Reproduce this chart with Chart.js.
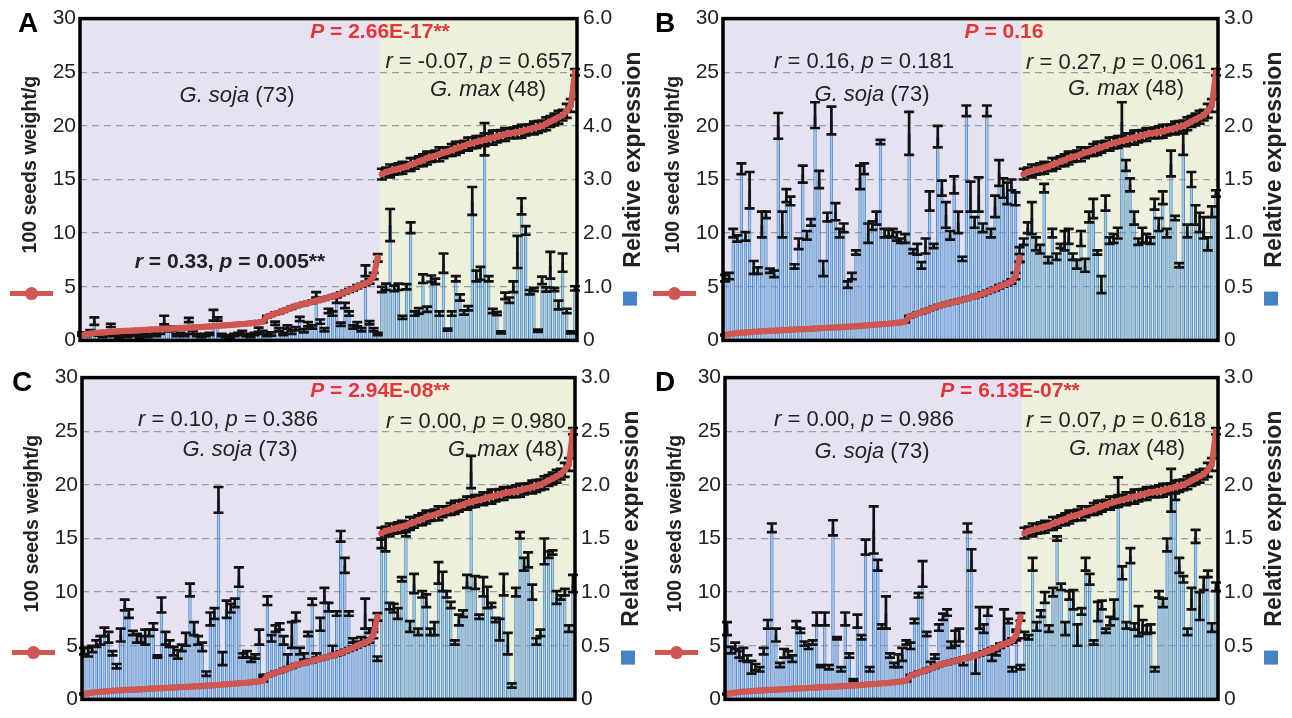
<!DOCTYPE html>
<html>
<head>
<meta charset="utf-8">
<script src="https://cdn.jsdelivr.net/npm/chart.js@4.4.0/dist/chart.umd.min.js"></script>
<style>
body{margin:0;background:#fff;}
#wrap{position:relative;width:1292px;height:718px;overflow:hidden;}
canvas{position:absolute;}
</style>
</head>
<body>
<div id="wrap">
<canvas id="chartA" width="646" height="359" style="left:0;top:0"></canvas>
<canvas id="chartB" width="646" height="359" style="left:646px;top:0"></canvas>
<canvas id="chartC" width="646" height="359" style="left:0;top:359px"></canvas>
<canvas id="chartD" width="646" height="359" style="left:646px;top:359px"></canvas>
</div>
<script>
// categories
var groups = ['G. soja', 'G. max'];
var groupCount = [73, 48];
var labels = [];
for(var g=0; g<groups.length; g++){
	for(var k=1; k<=groupCount[g]; k++){
		labels.push(groups[g]+' '+k);
	}
}

// 100 seeds weight (g), same accessions in every panel
var seedSoja = [0.5,0.58,0.63,0.68,0.71,0.74,0.77,0.8,0.82,0.85,
	0.87,0.89,0.91,0.93,0.95,0.97,0.99,1.01,1.03,1.05,
	1.07,1.09,1.11,1.13,1.15,1.17,1.19,1.21,1.23,1.25,
	1.28,1.3,1.32,1.35,1.38,1.41,1.44,1.47,1.5,1.53,
	1.56,1.6,1.64,1.68,1.75,2.2,2.35,2.5,2.6,2.75,
	2.9,3.05,3.2,3.3,3.4,3.5,3.6,3.7,3.8,3.9,
	4.0,4.1,4.2,4.35,4.5,4.65,4.8,5.0,5.15,5.3,
	5.5,6.0,7.7];
var seedMax = [15.5,15.7,15.8,15.9,16.0,16.1,16.2,16.4,16.5,16.7,
	16.8,17.0,17.1,17.2,17.35,17.5,17.6,17.75,17.9,18.0,
	18.15,18.3,18.4,18.5,18.6,18.7,18.8,18.9,19.0,19.1,
	19.2,19.3,19.35,19.4,19.5,19.6,19.7,19.8,19.9,20.0,
	20.2,20.4,20.6,20.8,21.0,21.4,21.9,25.0];
var seedErrSoja = [0.03,0.04,0.03,0.04,0.04,0.03,0.05,0.04,0.04,0.03,
	0.05,0.04,0.04,0.05,0.04,0.05,0.04,0.06,0.04,0.05,
	0.05,0.04,0.06,0.05,0.04,0.05,0.06,0.04,0.05,0.06,
	0.05,0.07,0.05,0.06,0.06,0.05,0.07,0.06,0.07,0.05,
	0.07,0.06,0.08,0.06,0.07,0.08,0.07,0.09,0.08,0.1,
	0.08,0.11,0.09,0.09,0.11,0.1,0.12,0.1,0.11,0.12,
	0.11,0.13,0.11,0.13,0.12,0.14,0.13,0.15,0.13,0.16,
	0.2,0.3,0.35];
var seedErrMax = [0.5,0.4,0.6,0.45,0.5,0.55,0.4,0.6,0.5,0.45,
	0.55,0.6,0.45,0.5,0.65,0.5,0.4,0.55,0.6,0.5,
	0.45,0.6,0.5,0.55,0.45,0.6,0.5,0.65,0.55,0.5,
	0.6,0.45,0.5,0.55,0.6,0.5,0.45,0.6,0.55,0.5,
	0.6,0.5,0.55,0.6,0.5,0.65,0.6,0.3];

// relative expression, panel A
var expASoja = [0.12,0.1,0.15,0.36,0.12,0.08,0.1,0.28,0.1,0.07,
	0.1,0.08,0.12,0.1,0.06,0.1,0.08,0.12,0.1,0.15,
	0.38,0.2,0.22,0.1,0.12,0.1,0.38,0.15,0.1,0.08,
	0.1,0.12,0.47,0.4,0.1,0.08,0.06,0.1,0.12,0.15,
	0.1,0.08,0.12,0.2,0.15,0.1,0.12,0.32,0.2,0.12,
	0.25,0.15,0.22,0.4,0.18,0.3,0.25,0.85,0.35,0.2,
	0.55,0.5,0.75,0.3,0.65,0.5,0.25,0.3,0.2,1.3,
	0.33,0.2,0.12];
var errASoja = [.03,.02,.04,.07,.03,.02,.02,.03,.02,.02,
	.02,.02,.02,.02,.02,.02,.02,.03,.02,.03,
	.08,.03,.04,.02,.02,.02,.04,.03,.02,.02,
	.02,.02,.1,.03,.02,.02,.02,.02,.02,.03,
	.02,.02,.02,.04,.03,.02,.03,.03,.03,.02,
	.03,.03,.03,.04,.03,.04,.03,.05,.04,.03,
	.04,.04,.05,.03,.05,.04,.03,.04,.03,.1,
	.03,.03,.02];
var expAMax = [0.95,1.0,2.15,0.97,1.0,0.43,1.0,2.1,0.5,0.55,
	1.15,0.58,1.15,1.1,0.5,1.44,0.2,0.5,1.15,0.8,
	0.52,0.6,2.6,1.2,1.25,3.75,1.15,0.55,0.5,0.15,
	0.83,0.75,1.0,1.65,2.5,2.05,0.9,0.95,0.18,1.12,
	0.95,1.4,0.95,0.66,1.45,0.55,0.15,0.97];
var errAMax = [.05,.06,.3,.05,.06,.03,.05,.1,.04,.05,
	.08,.05,.06,.05,.04,.18,.02,.04,.05,.06,
	.04,.04,.26,.1,.12,.3,.05,.04,.03,.02,
	.06,.05,.1,.3,.15,.08,.04,.03,.02,.07,
	.04,.25,.03,.08,.17,.04,.02,.04];

// panel B
var expBSoja = [0.58,0.6,1.0,0.95,1.6,0.97,1.4,0.68,0.65,1.08,
	1.17,0.65,0.62,2.0,1.08,1.35,1.3,0.69,0.9,1.55,
	0.98,1.1,2.1,1.5,0.67,1.15,2.05,1.2,1.0,1.05,
	0.52,0.6,0.82,1.52,1.6,1.0,1.07,1.14,1.85,1.0,
	1.0,1.0,0.97,0.93,0.95,1.93,0.83,0.85,0.7,0.88,
	1.3,0.88,1.9,1.42,1.17,0.98,1.45,1.1,0.76,2.14,
	1.34,1.1,1.36,1.05,2.14,1.0,1.25,1.56,1.42,1.37,
	1.45,1.32,0.8];
var errBSoja = [.03,.03,.04,.03,.05,.04,.17,.06,.03,.12,
	.03,.02,.03,.12,.12,.06,.04,.02,.05,.08,
	.04,.03,.12,.08,.07,.04,.13,.08,.04,.04,
	.03,.03,.02,.11,.05,.09,.04,.06,.02,.04,
	.03,.04,.04,.02,.04,.2,.02,.05,.03,.07,
	.09,.02,.1,.07,.12,.04,.08,.1,.02,.05,
	.14,.05,.16,.04,.05,.04,.1,.12,.09,.1,
	.05,.06,.07];
var expBMax = [0.92,1.05,1.14,0.9,0.85,1.42,0.75,1.0,0.78,0.88,
	0.93,0.97,0.78,0.71,0.95,0.7,1.15,1.23,0.82,0.52,
	1.28,0.93,0.95,1.0,2.04,1.63,1.45,1.14,0.92,0.98,
	0.95,0.93,1.27,1.08,1.33,1.0,1.65,1.14,0.7,1.83,
	1.02,1.5,1.17,1.1,1.05,0.9,1.2,1.37];
var errBMax = [.03,.05,.15,.06,.04,.04,.03,.04,.03,.02,
	.09,.07,.03,.04,.07,.06,.05,.09,.02,.08,
	.07,.03,.04,.05,.18,.05,.06,.06,.03,.07,
	.04,.03,.05,.06,.06,.04,.12,.02,.02,.1,
	.06,.07,.09,.09,.1,.06,.05,.03];

// panel C
var expCSoja = [0.45,0.44,0.47,0.52,0.55,0.63,0.58,0.43,0.31,0.6,
	0.88,0.8,0.62,0.57,0.56,0.58,0.62,0.68,0.4,0.88,
	0.57,0.52,0.45,0.42,0.48,0.56,1.02,0.66,0.55,0.49,
	0.24,0.75,0.8,1.86,0.38,0.84,0.85,0.9,1.14,0.41,
	0.42,0.37,0.4,0.58,0.22,0.92,0.57,0.66,0.68,0.55,
	0.36,0.6,0.77,0.45,0.4,0.61,0.91,0.41,0.7,0.97,
	0.86,0.46,0.8,1.52,1.25,0.8,0.55,0.52,0.55,0.8,
	0.64,0.7,0.38];
var errCSoja = [.03,.04,.03,.03,.04,.04,.05,.02,.02,.06,
	.05,.04,.02,.04,.03,.07,.03,.03,.01,.07,
	.06,.03,.04,.04,.03,.06,.06,.06,.04,.04,
	.02,.06,.05,.12,.06,.08,.04,.04,.09,.02,
	.03,.02,.02,.07,.01,.04,.03,.03,.03,.04,
	.06,.12,.04,.03,.03,.02,.03,.02,.06,.07,
	.04,.04,.02,.05,.07,.02,.02,.02,.03,.14,
	.02,.04,.02];
var expCMax = [1.45,1.47,0.87,0.85,0.8,1.12,1.54,0.68,1.08,0.63,
	0.98,0.92,0.63,0.66,1.18,1.1,0.98,0.88,0.53,0.74,
	0.8,1.1,2.12,1.09,0.77,1.05,0.95,0.88,0.74,0.65,
	1.07,0.52,0.13,1.0,1.53,1.26,1.3,1.0,0.54,0.62,
	1.38,1.35,1.37,0.95,0.95,1.0,0.66,1.08];
var errCMax = [.04,.09,.03,.04,.05,.02,.02,.05,.09,.03,
	.03,.06,.03,.06,.1,.09,.03,.03,.02,.05,
	.03,.06,.15,.06,.02,.09,.1,.02,.02,.1,
	.1,.1,.02,.04,.03,.06,.07,.07,.03,.03,
	.12,.03,.02,.06,.02,.03,.03,.08];

// panel D
var expDSoja = [0.66,0.46,0.5,0.42,0.42,0.38,0.3,0.3,0.28,0.45,
	0.7,1.6,0.6,0.32,0.43,0.42,0.38,0.7,0.64,0.52,
	0.49,0.53,0.75,0.31,0.75,0.3,1.6,0.57,0.28,0.75,
	0.41,0.18,0.73,0.58,1.42,0.28,1.58,1.25,0.68,0.81,
	0.41,0.32,0.36,0.42,0.53,0.5,0.73,0.97,1.17,0.61,
	0.32,0.4,0.67,0.77,0.81,0.51,0.57,0.6,0.35,1.6,
	1.3,0.33,0.76,0.66,0.82,0.39,0.43,0.5,0.68,0.73,
	0.28,0.6,0.3];
var errDSoja = [.06,.03,.03,.03,.06,.03,.06,.03,.02,.03,
	.04,.04,.06,.02,.04,.03,.03,.03,.02,.02,
	.02,.02,.06,.01,.06,.02,.07,.01,.02,.06,
	.02,.01,.06,.02,.07,.02,.22,.05,.02,.15,
	.02,.02,.06,.06,.02,.03,.02,.02,.12,.02,
	.03,.02,.03,.03,.03,.03,.07,.06,.03,.04,
	.1,.09,.1,.04,.04,.03,.02,.02,.16,.02,
	.02,.05,.02];
var expDMax = [0.6,0.58,1.26,0.68,0.8,0.95,0.66,1.0,1.5,1.05,
	0.66,0.97,0.93,0.6,0.82,1.26,1.12,0.53,0.82,0.88,
	0.64,0.73,0.84,1.94,1.18,0.69,1.34,0.68,0.73,0.68,
	0.65,0.66,0.28,0.98,0.9,1.44,1.95,1.92,1.25,1.12,
	0.63,0.94,1.52,0.87,1.08,1.17,0.67,1.05];
var errDMax = [.03,.02,.06,.04,.03,.05,.03,.04,.02,.03,
	.06,.04,.09,.1,.03,.06,.05,.02,.09,.04,
	.02,.04,.09,.13,.06,.03,.07,.03,.14,.06,
	.04,.04,.02,.03,.04,.06,.2,.06,.07,.03,
	.03,.1,.06,.13,.06,.03,.04,.04];

var seedWeight = seedSoja.concat(seedMax);
var seedErr = seedErrSoja.concat(seedErrMax);

var F = '"Liberation Sans", Arial, sans-serif';
var red = '#CF5752';
var textColor = '#222';

function font(size, bold, italic){
	return (italic ? 'italic ' : '') + (bold ? 'bold ' : '') + size + 'px ' + F;
}
function rNote(r, p){
	return [['r',1],[' = '+r+', ',0],['p',1],[' = '+p,0]];
}
function gNote(name, n){
	return [[name,1],[n,0]];
}

function drawParts(ctx, parts, cx, cy, size, bold, color){
	var w = 0, i;
	for(i=0; i<parts.length; i++){
		ctx.font = font(size, bold, parts[i][1]);
		w += ctx.measureText(parts[i][0]).width;
	}
	var x = cx - w/2;
	ctx.fillStyle = color;
	ctx.textAlign = 'left';
	ctx.textBaseline = 'middle';
	for(i=0; i<parts.length; i++){
		ctx.font = font(size, bold, parts[i][1]);
		ctx.fillText(parts[i][0], x, cy);
		x += ctx.measureText(parts[i][0]).width;
	}
}

function errBar(ctx, x, yTop, yBot){
	ctx.beginPath();
	ctx.moveTo(x, yTop); ctx.lineTo(x, yBot);
	ctx.moveTo(x-5, yTop); ctx.lineTo(x+5, yTop);
	ctx.moveTo(x-5, yBot); ctx.lineTo(x+5, yBot);
	ctx.stroke();
}

function panelPlugin(p){
	return {
		id: 'panel'+p.letter,
		beforeDraw: function(chart){
			var a = chart.chartArea, xs = chart.scales.x, ctx = chart.ctx;
			var mid = (xs.getPixelForValue(groupCount[0]-1) + xs.getPixelForValue(groupCount[0]))/2;
			ctx.save();
			ctx.fillStyle = '#E6E2F1';
			ctx.fillRect(a.left, a.top, mid-a.left, a.bottom-a.top);
			ctx.fillStyle = '#EDF1DB';
			ctx.fillRect(mid, a.top, a.right-mid, a.bottom-a.top);
			ctx.restore();
		},
		beforeDatasetDraw: function(chart, args){
			if(args.index !== 0) return;
			var ctx = chart.ctx;
			var y = chart.scales.y, y1 = chart.scales.y1;
			var bars = chart.getDatasetMeta(1).data;
			var pts = chart.getDatasetMeta(0).data;
			ctx.save();
			ctx.strokeStyle = '#111';
			ctx.lineWidth = 2.7;
			for(var i=0; i<bars.length; i++){
				var v = p.exp[i], e = p.err[i];
				errBar(ctx, bars[i].x, y1.getPixelForValue(v+e), y1.getPixelForValue(Math.max(v-e,0)));
			}
			for(var j=0; j<pts.length; j++){
				var s = seedWeight[j], se = seedErr[j];
				errBar(ctx, pts[j].x, y.getPixelForValue(s+se), y.getPixelForValue(s-se));
			}
			ctx.restore();
		},
		afterDraw: function(chart){
			var a = chart.chartArea, ctx = chart.ctx;
			ctx.save();
			// frame
			ctx.strokeStyle = '#000';
			ctx.lineWidth = 3.5;
			ctx.strokeRect(a.left, a.top, a.right-a.left, a.bottom-a.top);
			// panel letter
			ctx.fillStyle = '#000';
			ctx.font = font(28, true, false);
			ctx.textAlign = 'left';
			ctx.textBaseline = 'middle';
			ctx.fillText(p.letter, p.letterX, a.top+6);
			// left title + line legend
			ctx.save();
			ctx.translate(a.left-49, a.top+146);
			ctx.rotate(-Math.PI/2);
			ctx.font = font(19.5, true, false);
			ctx.fillStyle = textColor;
			ctx.textAlign = 'center';
			ctx.fillText('100 seeds weight/g', 0, 0);
			ctx.restore();
			ctx.strokeStyle = red;
			ctx.lineWidth = 5;
			ctx.beginPath();
			ctx.moveTo(a.left-70, a.top+275);
			ctx.lineTo(a.left-27, a.top+275);
			ctx.stroke();
			ctx.fillStyle = red;
			ctx.beginPath();
			ctx.arc(a.left-48.5, a.top+275, 6.5, 0, Math.PI*2);
			ctx.fill();
			// right title + bar legend
			ctx.save();
			ctx.translate(a.right+57, a.top+141);
			ctx.rotate(-Math.PI/2);
			ctx.font = font(23, true, false);
			ctx.fillStyle = textColor;
			ctx.textAlign = 'center';
			ctx.fillText('Relative expression', 0, 0);
			ctx.restore();
			ctx.fillStyle = '#4683C6';
			ctx.fillRect(a.right+46, a.top+273, 14, 14);
			// notes
			drawParts(ctx, [['P',1],[p.pText,0]], p.pX, a.top+14, 21, true, '#E6343B');
			for(var i=0; i<p.notes.length; i++){
				var n = p.notes[i];
				drawParts(ctx, n.parts, n.x, a.top+n.y, n.bold ? 21 : 22, !!n.bold, textColor);
			}
			ctx.restore();
		}
	};
}

function makePanel(p){
	var ctx = document.getElementById(p.id).getContext('2d');
	return new Chart(ctx, {
		type: 'bar',
		data: {
			labels: labels,
			datasets: [{
				type: 'line',
				label: '100 seeds weight/g',
				data: seedWeight,
				yAxisID: 'y',
				borderColor: red,
				backgroundColor: red,
				borderWidth: 6,
				pointRadius: 3.2,
				pointBorderWidth: 0,
				pointBackgroundColor: red,
				tension: 0,
				segment: {
					borderColor: function(c){ return c.p0DataIndex === groupCount[0]-1 ? 'rgba(0,0,0,0)' : undefined; }
				},
				order: 0
			},{
				type: 'bar',
				label: 'Relative expression',
				data: p.exp,
				yAxisID: 'y1',
				backgroundColor: 'rgba(110,165,222,0.55)',
				borderColor: '#4A88C8',
				borderWidth: 1,
				categoryPercentage: 1,
				barPercentage: 0.85,
				order: 1
			}]
		},
		options: {
			responsive: false,
			animation: false,
			events: [],
			layout: {padding: {top: p.top, bottom: p.bottom, left: 0, right: 0}},
			plugins: {legend: {display: false}, tooltip: {enabled: false}},
			scales: {
				x: {display: false, offset: true},
				y: {
					position: 'left', min: 0, max: 30,
					afterFit: function(s){ s.width = p.leftW; },
					ticks: {stepSize: 5, font: {size: 21, family: F}, color: textColor, padding: 4},
					grid: {color: '#9E9E9E', lineWidth: 1.3, drawTicks: false},
					border: {display: false, dash: [7,5]}
				},
				y1: {
					position: 'right', min: 0, max: p.rmax,
					afterFit: function(s){ s.width = p.rightW; },
					ticks: {stepSize: p.rstep, font: {size: 21, family: F}, color: textColor, padding: 6,
						callback: function(v){ return v === 0 ? '0' : v.toFixed(1); }},
					grid: {display: false, drawTicks: false},
					border: {display: false}
				}
			}
		},
		plugins: [panelPlugin(p)]
	});
}

//panel A
makePanel({id:'chartA', letter:'A', letterX:18, exp:expASoja.concat(expAMax), err:errASoja.concat(errAMax),
	rmax:6, rstep:1, leftW:80, rightW:69, top:14, bottom:12, pText:' = 2.66E-17**', pX:380,
	notes:[
		{parts:rNote('-0.07','0.657'), x:479, y:43},
		{parts:gNote('G. max',' (48)'), x:488, y:71},
		{parts:gNote('G. soja',' (73)'), x:237, y:77},
		{parts:[['r',1],[' = 0.33, ',0],['p',1],[' = 0.005**',0]], x:230, y:244, bold:true}
	]});

//panel B
makePanel({id:'chartB', letter:'B', letterX:9, exp:expBSoja.concat(expBMax), err:errBSoja.concat(errBMax),
	rmax:3, rstep:0.5, leftW:77, rightW:74, top:14, bottom:12, pText:' = 0.16', pX:358,
	notes:[
		{parts:rNote('0.16','0.181'), x:218, y:43},
		{parts:gNote('G. soja',' (73)'), x:226, y:76},
		{parts:rNote('0.27','0.061'), x:470, y:44},
		{parts:gNote('G. max',' (48)'), x:480, y:70}
	]});

//panel C
makePanel({id:'chartC', letter:'C', letterX:12, exp:expCSoja.concat(expCMax), err:errCSoja.concat(errCMax),
	rmax:3, rstep:0.5, leftW:82, rightW:71, top:16, bottom:13, pText:' = 2.94E-08**', pX:380,
	notes:[
		{parts:rNote('0.10','0.386'), x:228, y:42},
		{parts:gNote('G. soja',' (73)'), x:240, y:72},
		{parts:rNote('0.00','0.980'), x:476, y:44},
		{parts:gNote('G. max',' (48)'), x:506, y:72}
	]});

//panel D
makePanel({id:'chartD', letter:'D', letterX:9, exp:expDSoja.concat(expDMax), err:errDSoja.concat(errDMax),
	rmax:3, rstep:0.5, leftW:79, rightW:74, top:16, bottom:13, pText:' = 6.13E-07**', pX:364,
	notes:[
		{parts:rNote('0.00','0.986'), x:218, y:42},
		{parts:gNote('G. soja',' (73)'), x:226, y:74},
		{parts:rNote('0.07','0.618'), x:470, y:43},
		{parts:gNote('G. max',' (48)'), x:481, y:71}
	]});
</script>
</body>
</html>
